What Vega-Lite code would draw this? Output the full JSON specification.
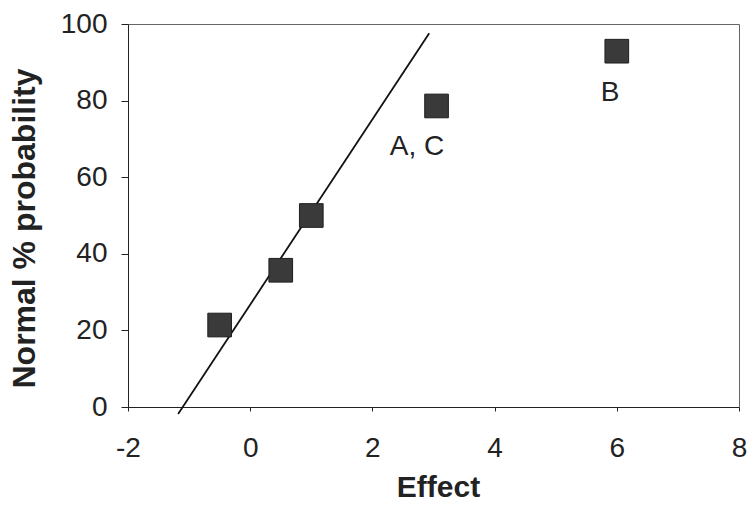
{
  "$schema": "https://vega.github.io/schema/vega-lite/v6.json",
  "autosize": "none",
  "width": 611,
  "height": 383,
  "padding": {"left": 128, "top": 24, "right": 8, "bottom": 100},
  "background": "white",
  "config": {
    "font": "Liberation Sans",
    "view": {"stroke": "#666666", "strokeWidth": 1},
    "axis": {
      "domainColor": "#222222",
      "tickColor": "#222222",
      "labelColor": "#222222",
      "titleColor": "#222222",
      "labelFont": "Liberation Sans",
      "titleFont": "Liberation Sans",
      "labelFlush": false,
      "labelOverlap": false,
      "grid": false
    }
  },
  "datasets": {
    "effects": [
      {"effect": -0.5, "prob": 21.4},
      {"effect": 0.5, "prob": 35.7},
      {"effect": 1.0, "prob": 50.0},
      {"effect": 3.05, "prob": 78.6},
      {"effect": 6.0, "prob": 92.9}
    ],
    "fit": [
      {"effect": -1.18, "prob": -1.8},
      {"effect": 2.93, "prob": 97.6}
    ],
    "labels": [
      {"effect": 2.73, "prob": 68, "name": "A, C"},
      {"effect": 5.89, "prob": 82, "name": "B"}
    ]
  },
  "layer": [
    {
      "data": {"name": "fit"},
      "mark": {"type": "line", "color": "#111111", "strokeWidth": 1.8, "clip": false},
      "encoding": {
        "x": {
          "field": "effect", "type": "quantitative",
          "scale": {"domain": [-2, 8], "nice": false, "zero": false},
          "axis": {
            "title": "Effect",
            "values": [-2, 0, 2, 4, 6, 8],
            "labelExpr": "datum.value < 0 ? '-' + abs(datum.value) : '' + datum.value",
            "labelFontSize": 28,
            "labelPadding": 23,
            "tickSize": 4,
            "titleFontSize": 30,
            "titleFontWeight": "bold",
            "titleX": 310,
            "titleY": 80,
            "titleBaseline": "middle"
          }
        },
        "y": {
          "field": "prob", "type": "quantitative",
          "scale": {"domain": [0, 100], "nice": false, "zero": false},
          "axis": {
            "title": "Normal % probability",
            "values": [0, 20, 40, 60, 80, 100],
            "labelFontSize": 28,
            "labelPadding": 14,
            "tickSize": 7,
            "titleFontSize": 32,
            "titleFontWeight": "bold",
            "titleAngle": 270,
            "titleX": -104,
            "titleY": 204,
            "titleBaseline": "middle"
          }
        }
      }
    },
    {
      "data": {"name": "effects"},
      "mark": {"type": "point", "shape": "square", "filled": true, "size": 560, "color": "#3a3a3a", "stroke": "#1e1e1e", "strokeWidth": 1, "opacity": 1},
      "encoding": {
        "x": {"field": "effect", "type": "quantitative"},
        "y": {"field": "prob", "type": "quantitative"}
      }
    },
    {
      "data": {"name": "labels"},
      "mark": {"type": "text", "fontSize": 28, "color": "#222222", "align": "center", "baseline": "middle"},
      "encoding": {
        "x": {"field": "effect", "type": "quantitative"},
        "y": {"field": "prob", "type": "quantitative"},
        "text": {"field": "name"}
      }
    }
  ]
}
